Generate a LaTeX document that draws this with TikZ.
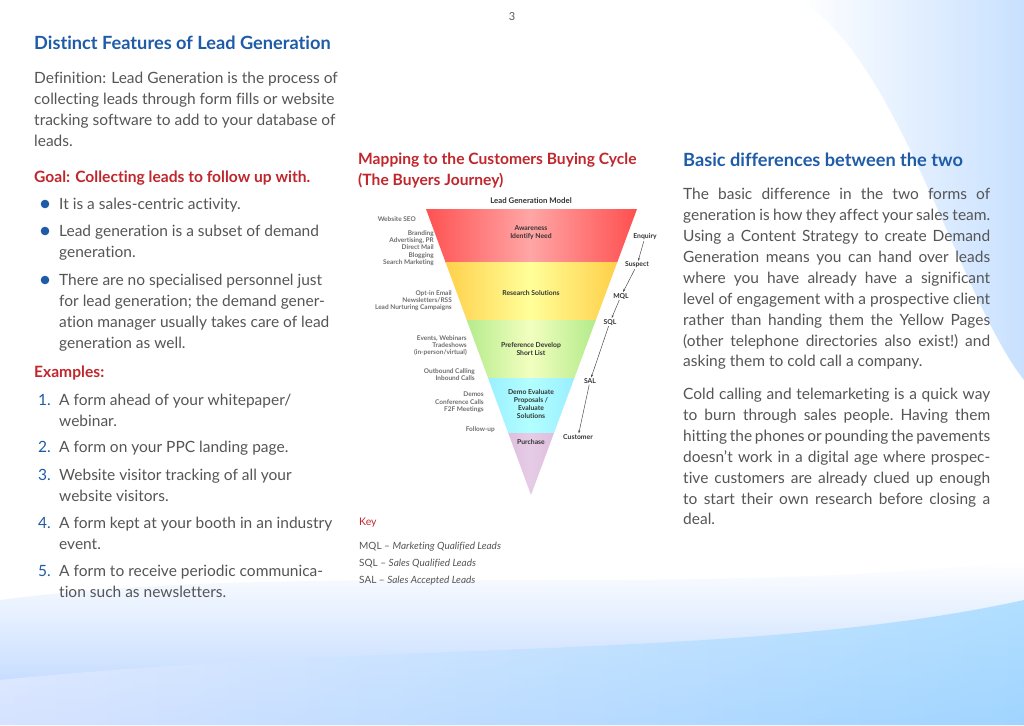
\documentclass[tikz,border=0pt]{standalone}
\usepackage{fontspec}
\setmainfont{Lato}[Ligatures=NoCommon]
\usetikzlibrary{arrows.meta}
\definecolor{hblue}{HTML}{1F5CA8}
\definecolor{hred}{HTML}{C0272D}
\definecolor{body}{HTML}{555555}
\definecolor{flab}{HTML}{6E6E6E}
\begin{document}
\begin{tikzpicture}[x=1pt,y=-1pt,
  t/.style={anchor=base west,inner sep=0,text=body,font=\fontsize{15.5}{17}\selectfont},
  hd/.style={anchor=base west,inner sep=0,text=hblue,font=\fontsize{18.2}{20}\selectfont\bfseries},
  rh/.style={anchor=base west,inner sep=0,text=hred,font=\fontsize{15.6}{17}\selectfont\bfseries},
  fl/.style={anchor=north east,inner sep=0,text=flab,font=\fontsize{6.5}{7.4}\selectfont\bfseries,align=right},
  fc/.style={inner sep=0,text=black!80,font=\fontsize{6.8}{8}\selectfont\bfseries,align=center},
  fr/.style={inner sep=0,text=black!80,font=\fontsize{6.8}{8}\selectfont\bfseries},
  ar/.style={-{Stealth[length=3pt]},black!70,line width=0.5pt,shorten >=1pt,shorten <=1pt},
  k/.style={anchor=base west,inner sep=0,text=body,font=\fontsize{10}{12}\selectfont},
  num/.style={anchor=base west,inner sep=0,text=hblue,font=\fontsize{15.5}{17}\selectfont}]
\useasboundingbox (0,0) rectangle (1024,725);
\fill[white] (0,0) rectangle (1024,725);
% background blue
\shade[left color=white,right color=cyan!45!blue!25,opacity=0.85] (800,0) .. controls (900,60) and (960,300) .. (1024,380) -- (1024,0) -- cycle;
\shade[top color=white,bottom color=cyan!40!blue!30] (0,600) .. controls (300,560) and (700,600) .. (1024,560) -- (1024,725) -- (0,725) -- cycle;
\shade[left color=cyan!20!blue!10,right color=cyan!60!blue!40,opacity=0.7] (0,680) .. controls (400,640) and (750,660) .. (1024,600) -- (1024,725) -- (0,725) -- cycle;
\node[inner sep=0,text=body,font=\fontsize{11}{13}\selectfont] (pg) at (512,17) {3};
% left column
\node[hd] (h1) at (34,49) {Distinct Features of Lead Generation};
\node[t] (d1) at (34,83) {Definition: Lead Generation is the process of};
\node[t] (d2) at (34,104) {collecting leads through form fills or website};
\node[t] (d3) at (34,125) {tracking software to add to your database of};
\node[t] (d4) at (34,146) {leads.};
\node[rh] (g) at (34,182) {Goal: Collecting leads to follow up with.};
\foreach \y in {204,231,280} \fill[hblue] (45,\y) circle (4.3);
\node[t] (b1) at (59,209) {It is a sales-centric activity.};
\node[t] (b2) at (59,236) {Lead generation is a subset of demand};
\node[t] (b3) at (59,257) {generation.};
\node[t] (b4) at (59,285) {There are no specialised personnel just};
\node[t] (b5) at (59,306) {for lead generation; the demand gener-};
\node[t] (b6) at (59,327) {ation manager usually takes care of lead};
\node[t] (b7) at (59,348) {generation as well.};
\node[rh] (ex) at (34,377) {Examples:};
\node[num] (n1) at (38,405) {1.};
\node[t] (e1) at (59,405) {A form ahead of your whitepaper/};
\node[t] (e1b) at (59,426) {webinar.};
\node[num] (n2) at (38,452) {2.};
\node[t] (e2) at (59,452) {A form on your PPC landing page.};
\node[num] (n3) at (38,480) {3.};
\node[t] (e3) at (59,480) {Website visitor tracking of all your};
\node[t] (e3b) at (59,501) {website visitors.};
\node[num] (n4) at (38,528) {4.};
\node[t] (e4) at (59,528) {A form kept at your booth in an industry};
\node[t] (e4b) at (59,549) {event.};
\node[num] (n5) at (38,576) {5.};
\node[t] (e5) at (59,576) {A form to receive periodic communica-};
\node[t] (e5b) at (59,597) {tion such as newsletters.};
% middle
\node[rh] (m1) at (358,164) {Mapping to the Customers Buying Cycle};
\node[rh] (m2) at (358,185) {(The Buyers Journey)};
\node[inner sep=0,text=black!80,font=\fontsize{7.8}{9}\selectfont\bfseries] (lgm) at (531,201) {Lead Generation Model};
\begin{scope}
\clip (426,209) -- (637,209) -- (531,495) -- cycle;
\shade[left color=red!70!white,right color=red!70!white,middle color=red!35!white] (420,209) rectangle (640,262);
\shade[left color=orange!60!yellow!80,right color=orange!60!yellow!80,middle color=yellow!40] (420,262) rectangle (640,320);
\shade[left color=green!55!olive!60,right color=green!55!olive!60,middle color=green!20!yellow!25] (420,320) rectangle (640,378);
\shade[left color=cyan!70!blue!55,right color=cyan!70!blue!55,middle color=cyan!30] (420,378) rectangle (640,433);
\shade[left color=violet!45,right color=violet!45,middle color=violet!20] (420,433) rectangle (640,500);
\end{scope}
\node[fc] (c1) at (531,233) {Awareness\\Identify Need};
\node[fc] (c2) at (531,293) {Research Solutions};
\node[fc] (c3) at (531,349) {Preference Develop\\Short List};
\node[fc] (c4) at (531,404) {Demo Evaluate\\Proposals /\\Evaluate\\Solutions};
\node[fc] (c5) at (531,442) {Purchase};
\node[fl] (l1) at (416,216) {Website SEO};
\node[fl] (l2) at (434,230) {Branding\\Advertising, PR\\Direct Mail\\Blogging\\Search Marketing};
\node[fl] (l3) at (452,290) {Opt-in Email\\Newsletters/RSS\\Lead Nurturing Campaigns};
\node[fl] (l4) at (467,335) {Events, Webinars\\Tradeshows\\(in-person/virtual)};
\node[fl] (l5) at (475,368) {Outbound Calling\\Inbound Calls};
\node[fl] (l6) at (484,392) {Demos\\Conference Calls\\F2F Meetings};
\node[fl] (l7) at (495,426) {Follow-up};
\node[fr] (r1) at (645,237) {Enquiry};
\node[fr] (r2) at (637,265) {Suspect};
\node[fr] (r3) at (621,296) {MQL};
\node[fr] (r4) at (610,322) {SQL};
\node[fr] (r5) at (590,381) {SAL};
\node[fr] (r6) at (578,437) {Customer};
\draw[ar] (r1) -- (r2);
\draw[ar] (r2) -- (r3);
\draw[ar] (r3) -- (r4);
\draw[ar] (r4) -- (r5);
\draw[ar] (r5) -- (r6);
\node[anchor=base west,inner sep=0,text=hred,font=\fontsize{10.5}{12}\selectfont] (key) at (359,525) {Key};
\node[k] (k1) at (359,549) {MQL – \textit{Marketing Qualified Leads}};
\node[k] (k2) at (359,566) {SQL – \textit{Sales Qualified Leads}};
\node[k] (k3) at (359,583) {SAL – \textit{Sales Accepted Leads}};
% right
\node[hd] (h2) at (683,166) {Basic differences between the two};
\def\jl#1#2{\node[t] at (683,#1) {\makebox[307pt][s]{#2}};}
\jl{199}{The basic difference in the two forms of}
\jl{220}{generation is how they affect your sales team.}
\jl{241}{Using a Content Strategy to create Demand}
\jl{262}{Generation means you can hand over leads}
\jl{283}{where you have already have a significant}
\jl{304}{level of engagement with a prospective client}
\jl{325}{rather than handing them the Yellow Pages}
\jl{346}{(other telephone directories also exist!)\ and}
\node[t] at (683,366) {asking them to cold call a company.};
\jl{399}{Cold calling and telemarketing is a quick way}
\jl{420}{to burn through sales people.\ Having them}
\jl{441}{hitting the phones or pounding the pavements}
\jl{462}{doesn't work in a digital age where prospec-}
\jl{483}{tive customers are already clued up enough}
\jl{504}{to start their own research before closing a}
\node[t] at (683,524) {deal.};
\end{tikzpicture}
\end{document}
